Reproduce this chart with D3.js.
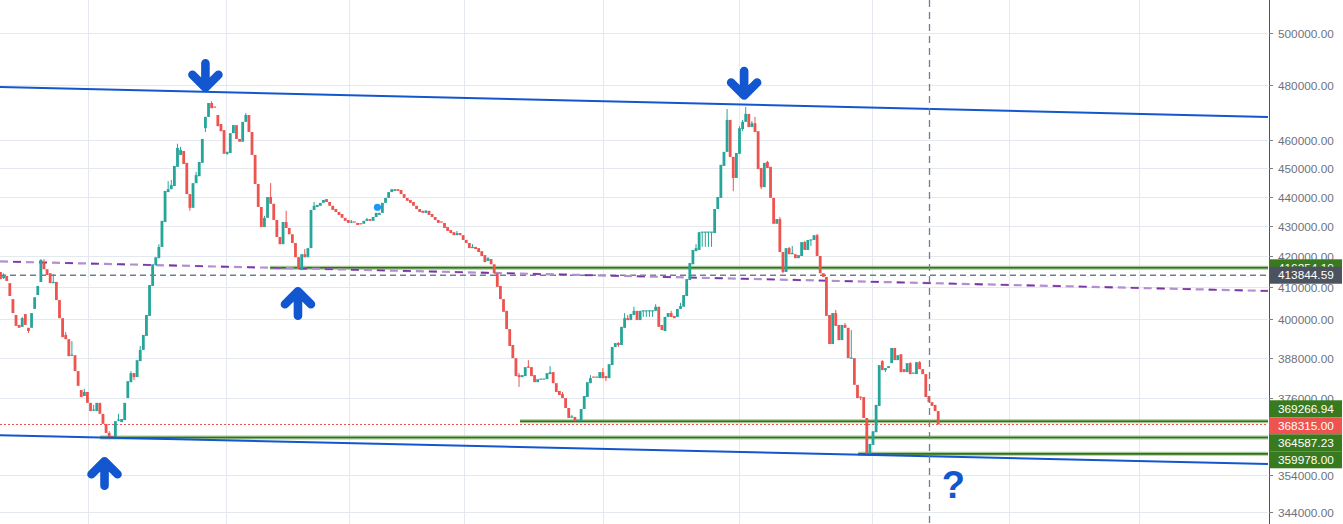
<!DOCTYPE html>
<html><head><meta charset="utf-8">
<script src="https://cdn.jsdelivr.net/npm/d3@7"></script>
<style>html,body{margin:0;padding:0;background:#fff;overflow:hidden}svg{display:block}</style>
</head><body><svg id="c" width="1343" height="524"></svg>
<script>
// ---------------- DATA ----------------
const opens = [
414900,412900,413600,411300,406200,401200,398100,397500,401500,397200,
397200,403100,407500,411700,418100,415800,414500,411300,411700,405900,
400200,395000,393700,388500,388800,384000,378400,376600,377800,374600,
372200,372200,374600,371400,368500,365900,365000,364600,369300,369000,
369600,376000,380700,383400,382200,387000,390400,394700,400900,410400,
417100,419400,423100,431400,441600,442600,443700,450400,454600,456000,
451800,440900,436200,444700,447100,451800,464200,468300,473400,471900,
469000,465700,463500,455000,455300,462400,465300,460300,459300,466500,
469000,462800,454600,444400,436500,429700,432800,439900,437600,432100,
426400,424000,431400,429400,427300,424400,419700,415500,420700,419700,
422700,435500,436500,436900,437900,439200,438200,436900,435800,434800,
434100,432800,432100,431100,431400,431100,430800,430800,431800,432400,
431800,433100,433800,434500,437900,439600,441600,442000,442600,442300,
440900,439600,438900,438200,436900,435800,435200,434500,435200,434100,
433100,432100,431400,431100,429700,428700,428000,427000,427700,427000,
425400,424400,422700,423100,422700,421700,420400,418500,419100,417400,
414500,410400,406200,402500,396800,391900,387900,382800,382200,382500,
385200,385200,382800,380700,381300,381300,381600,383100,383700,380400,
378100,377200,376000,373100,370200,370500,369300,369300,372800,376300,
380400,382200,381900,381900,383700,382500,381900,385800,391300,392500,
391900,397200,400200,399600,401200,402500,399600,402500,402500,402500,
402500,402500,403800,398100,396200,400600,401800,400900,400600,403100,
403800,407200,412300,417400,421700,422100,428000,428000,428000,428000,
427700,435800,439600,450700,455700,467200,453900,446500,455000,463900,
466500,469400,464600,466000,463100,450000,443300,452100,450400,439600,
430800,432400,421400,414900,422700,420700,420700,419400,420100,424700,
422100,425400,425400,427000,420100,414500,413300,401200,392200,401800,
398100,393400,398100,397200,387900,387900,379900,376300,376300,370200,
360000,362500,366100,373700,387000,384300,384900,386400,391000,387300,
389100,384600,383700,386400,383100,383100,386700,384600,383100,376600,
374800,374000,372200];
const closes = [
412600,413600,412000,407200,401800,397800,397200,400200,398100,396200,
401800,406800,410400,418800,415800,413900,411300,411700,405900,400200,
394300,393700,388500,388800,384000,379600,376300,377800,374600,372200,
372500,374600,371400,368500,365900,364600,364600,369300,369600,369900,
374600,381000,383400,382200,387300,390400,395000,401200,410700,417400,
419700,423100,431800,442000,442600,444000,450700,457100,456400,451400,
440900,436200,444700,447500,452100,460300,468300,473400,471500,471500,
464900,463100,455000,455700,462400,465300,460300,459300,466500,469000,
462800,454600,444400,436500,429700,432800,439900,437600,432100,426400,
424000,431400,429400,427300,424400,419700,416100,420700,419700,422700,
435500,436900,437200,437900,438900,438200,436900,435500,434800,433800,
432800,431800,431100,431400,431100,430400,430400,431800,432400,431800,
433100,434500,434500,437900,439600,441600,442600,442600,442000,440900,
439600,438600,437900,436900,435800,434800,434500,435200,433800,433100,
432100,431100,431100,429400,428400,427700,427000,427700,427000,425400,
424400,422700,423100,422400,421400,420100,418100,419400,417400,414500,
410100,406200,402200,396800,391600,387900,382500,382200,382800,385200,
384900,382500,380700,381600,381600,381600,383400,383700,380400,377800,
376900,376000,373100,370200,370500,369300,369600,372800,376600,380700,
381900,381900,382200,383700,381900,381900,386100,391300,392500,391900,
397500,400200,399600,401500,402500,399600,402500,402500,402500,402500,
402500,403800,397500,396500,400600,401800,400600,400200,403100,404000,
407500,412600,417800,422100,422700,428000,428000,428000,428000,428000,
435800,439900,451100,455700,467200,453900,446500,455300,464200,466500,
469400,464600,466000,462800,449600,443300,451800,450000,439600,430800,
432400,421400,414900,422700,420700,421100,419400,420400,424700,422100,
425400,425400,427000,420100,414500,413300,400900,392200,401800,397800,
393400,398100,397200,387900,387900,379900,376000,376000,370200,360000,
362800,366400,374000,385800,384300,384900,385500,391000,387300,388800,
383700,383700,386400,383100,383400,386700,384600,383100,376300,374800,
373700,372200,368315];
// [candle index, price] where the wick reaches past the body
const wickHighs = [[1,414500],[7,400600],[13,419100],[14,419100],[17,414200],[21,395900],[23,393100],[27,378700],[30,374000],[35,366400],[38,371400],[42,384000],[45,391600],[51,424000],[54,445400],[55,445800],[57,458600],[58,457500],[63,448600],[68,474100],[79,469700],[85,433500],[87,444700],[92,435200],[98,422400],[101,438200],[113,432100],[118,432800],[137,435500],[147,428400],[152,424000],[157,419700],[167,383400],[170,387300],[177,385500],[181,377800],[184,371100],[190,382800],[194,384900],[199,392800],[201,401800],[202,401200],[204,403800],[211,404600],[216,402500],[219,405000],[224,424000],[234,471200],[238,464900],[239,467200],[240,471900],[242,466800],[243,468300],[247,452500],[251,433100],[254,423100],[255,423400],[259,425100],[263,427400],[269,402800],[272,398700],[274,396500],[284,387300],[293,386700],[296,387000]];
const wickLows = [[1,412600],[9,395600],[36,364587],[43,381300],[61,435200],[66,462800],[73,454600],[96,415800],[167,379300],[185,369267],[195,381000],[199,391300],[207,400600],[208,400600],[209,400600],[210,400600],[226,423100],[227,423100],[228,423100],[229,423100],[236,441900],[239,463100],[245,442600],[252,414500],[261,423400],[277,375400],[279,359978],[285,383700]];

const yTicks = [500000,480000,460000,450000,440000,430000,420000,410000,400000,388000,376000,354000,344000];
const vGridIdx = [28.3,72.5,112.3,149.2,194.1,237.9,280.8,324.9,366.8];

// horizontal levels: [price, start candle index]
const greenLevels = [[416254.10,86.8],[369266.94,167.3],[364587.23,32.1],[359978.00,276.2]];
const lastPrice = 368315.00;
const grayLevel = 413844.59;
// trend lines: [[index, price],[index, price]]
const upperTrend = [[-0.16,479360],[408.2,468265]];
const lowerTrend = [[-0.16,365235],[408.2,357143]];
const purpleTrend = [[-0.16,418315],[408.2,408792]];
const vDashIdx = 299.0;
const arrows = [[66.0,477490,'down'],[239.5,474600,'down'],[33.5,359100,'up'],[95.8,410070,'up']];
const question = [306.9,347800];
const dotPoint = [121.4,436400];

// ---------------- SCALES ----------------
const W = 1343, H = 524, plotRight = 1268, axisX = 1269;
const step = 3.105;
const x = d3.scaleLinear().domain([0,408]).range([0.5, 0.5 + 408*step]);
const y = d3.scaleLog().domain([344000,500000]).range([512,33]);

const UP = '#26a69a', DOWN = '#ef5350', BLUE = '#1256d0', GREEN = '#3a7a1f';
const svg = d3.select('#c');
svg.append('rect').attr('width',W).attr('height',H).attr('fill','#ffffff');

// grid
const grid = svg.append('g').attr('stroke','#e3e9ef').attr('stroke-width',1);
yTicks.forEach(v => {
  const yy = Math.round(y(v)) + 0.5;
  grid.append('line').attr('x1',0).attr('x2',plotRight).attr('y1',yy).attr('y2',yy);
});
vGridIdx.forEach(i => {
  const xx = Math.round(x(i)) + 0.5;
  grid.append('line').attr('x1',xx).attr('x2',xx).attr('y1',0).attr('y2',H);
});

// horizontal levels
const lv = svg.append('g');
lv.append('line').attr('x1',0).attr('x2',plotRight).attr('y1',y(grayLevel)).attr('y2',y(grayLevel))
  .attr('stroke','#6e7f90').attr('stroke-width',1.3).attr('stroke-dasharray','6 4');
greenLevels.forEach(([p,i]) => {
  lv.append('line').attr('x1',x(i)).attr('x2',plotRight).attr('y1',y(p)).attr('y2',y(p))
    .attr('stroke','#86b873').attr('stroke-width',4).attr('opacity',0.75);
  lv.append('line').attr('x1',x(i)).attr('x2',plotRight).attr('y1',y(p)).attr('y2',y(p))
    .attr('stroke','#33701c').attr('stroke-width',1.6);
});
lv.append('line').attr('x1',0).attr('x2',plotRight).attr('y1',y(lastPrice)).attr('y2',y(lastPrice))
  .attr('stroke',DOWN).attr('stroke-width',1).attr('stroke-dasharray','2 2');
// purple dashed: light dashes alternating with darker dashes
lv.append('line').attr('x1',x(purpleTrend[0][0])).attr('x2',x(purpleTrend[1][0]))
  .attr('y1',y(purpleTrend[0][1])).attr('y2',y(purpleTrend[1][1]))
  .attr('stroke','#b48fd0').attr('stroke-width',2.2).attr('stroke-dasharray','8 5');
lv.append('line').attr('x1',x(purpleTrend[0][0])).attr('x2',x(purpleTrend[1][0]))
  .attr('y1',y(purpleTrend[0][1])).attr('y2',y(purpleTrend[1][1]))
  .attr('stroke','#7b35a6').attr('stroke-width',1.6).attr('stroke-dasharray','8 18').attr('stroke-dashoffset',-13);

// candles
const hiMap = new Map(wickHighs), loMap = new Map(wickLows);
const candles = opens.map((o,i) => {
  const c = closes[i];
  return {i, o, c, h: Math.max(o, c, hiMap.get(i) ?? 0), l: Math.min(o, c, loMap.get(i) ?? Infinity)};
});
const cg = svg.append('g');
const bw = 2.8;
candles.forEach(d => {
  const col = d.c >= d.o ? UP : DOWN;
  const cx = x(d.i);
  if (d.h > Math.max(d.o,d.c) || d.l < Math.min(d.o,d.c)) {
    cg.append('line').attr('x1',cx).attr('x2',cx).attr('y1',y(d.h)).attr('y2',y(d.l))
      .attr('stroke',col).attr('stroke-width',1);
  }
  const top = y(Math.max(d.o,d.c)), bot = y(Math.min(d.o,d.c));
  cg.append('rect').attr('x',cx - bw/2).attr('width',bw)
    .attr('y', bot - top < 1.2 ? top - 0.6 : top).attr('height',Math.max(1.2, bot - top)).attr('fill',col);
});

// trend lines
[upperTrend, lowerTrend].forEach(t => {
  svg.append('line').attr('x1',x(t[0][0])).attr('x2',x(t[1][0])).attr('y1',y(t[0][1])).attr('y2',y(t[1][1]))
    .attr('stroke',BLUE).attr('stroke-width',2);
});

// vertical dashed
const vx = Math.round(x(vDashIdx)) + 0.5;
svg.append('line').attr('x1',vx).attr('x2',vx).attr('y1',0).attr('y2',H)
  .attr('stroke','#6e7f90').attr('stroke-width',1.3).attr('stroke-dasharray','7 5');

// dot
svg.append('circle').attr('cx',x(dotPoint[0])).attr('cy',y(dotPoint[1])).attr('r',3.6).attr('fill','#2196f3');

// arrows
arrows.forEach(([i,p,dir]) => {
  const cx = x(i), ty = y(p), s = dir === 'up' ? 1 : -1;
  const w2 = 4.3, a = 13, L = 33;
  const t = ty + s*w2;
  const path = `M${cx-a},${t+s*a} L${cx},${t} L${cx+a},${t+s*a} M${cx},${t} L${cx},${ty + s*(L - w2)}`;
  svg.append('path').attr('d',path).attr('fill','none').attr('stroke',BLUE).attr('stroke-width',8.6)
    .attr('stroke-linecap','round').attr('stroke-linejoin','round');
});
svg.append('text').attr('x',x(question[0])).attr('y',y(question[1])).attr('text-anchor','middle')
  .attr('font-family','Liberation Sans, Arial, sans-serif').attr('font-weight','bold').attr('font-size',38)
  .attr('fill',BLUE).text('?');

// axis
const ax = svg.append('g');
ax.append('rect').attr('x',axisX).attr('y',0).attr('width',W-axisX).attr('height',H).attr('fill','#ffffff');
ax.append('line').attr('x1',axisX+0.5).attr('x2',axisX+0.5).attr('y1',0).attr('y2',H).attr('stroke','#50535e').attr('stroke-width',1);
const fmt = d3.format('.2f');
yTicks.forEach(v => {
  const yy = Math.round(y(v)) + 0.5;
  ax.append('line').attr('x1',axisX).attr('x2',axisX+4).attr('y1',yy).attr('y2',yy).attr('stroke','#7a7d86');
  ax.append('text').attr('x',1278).attr('y',yy).attr('dy','0.36em')
    .attr('font-family','Liberation Sans, Arial, sans-serif').attr('font-size',11.8).attr('fill','#6f727c').text(fmt(v));
});

// price labels with collision resolution
const LH = 17;
let items = greenLevels.map(([p]) => ({p, col: GREEN}));
items.push({p: lastPrice, col: DOWN});
items.forEach(d => d.iy = y(d.p));
items.sort((a,b) => a.iy - b.iy);
let groups = items.map(d => ({items:[d]}));
function place(g){ const m = d3.mean(g.items, d => d.iy); g.top = m - g.items.length*LH/2; g.bot = g.top + g.items.length*LH; }
groups.forEach(place);
let merged = true;
while (merged) {
  merged = false;
  for (let k = 1; k < groups.length; k++) {
    if (groups[k].top < groups[k-1].bot) {
      groups[k-1].items = groups[k-1].items.concat(groups[k].items);
      groups.splice(k,1); place(groups[k-1]); merged = true; break;
    }
  }
}
const lab = svg.append('g').attr('font-family','Liberation Sans, Arial, sans-serif').attr('font-size',11.8);
function drawLabel(top, p, col){
  lab.append('rect').attr('x',axisX).attr('y',top).attr('width',73).attr('height',LH).attr('fill',col);
  lab.append('text').attr('x',1278).attr('y',top + LH/2).attr('dy','0.36em').attr('fill','#ffffff').text(fmt(p));
}
groups.forEach(g => g.items.forEach((d,k) => drawLabel(g.top + k*LH, d.p, d.col)));
drawLabel(y(grayLevel) - LH/2, grayLevel, '#4c525e');
</script>
</body></html>
